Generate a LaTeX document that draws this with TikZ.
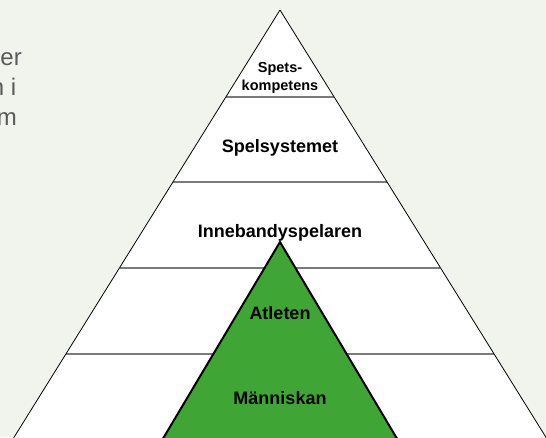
\documentclass[tikz,border=0pt]{standalone}
\usepackage{fontspec}
\setmainfont{Liberation Sans}
\definecolor{bgpaper}{HTML}{F0F4EC}
\definecolor{athletegreen}{HTML}{3FA535}
\definecolor{layerline}{HTML}{7A7A7A}
\definecolor{bodytext}{HTML}{5A5A5A}
\tikzset{
  levellabel/.style={font=\bfseries\fontsize{18}{20}\selectfont, anchor=base, inner sep=0pt},
  toplabel/.style={font=\bfseries\fontsize{14.5}{16}\selectfont, anchor=base, inner sep=0pt},
  margintext/.style={font=\fontsize{24}{30}\selectfont, text=bodytext, anchor=base east, inner sep=0pt}
}
\begin{document}
\begin{tikzpicture}[x=1pt,y=-1pt]
        \useasboundingbox[fill=bgpaper] (0,0) rectangle (546,437);
        % text cut off at the left margin
        \node[margintext] (txtA) at (22,65) {er};
        \node[margintext] (txtB) at (16.5,95) {n i};
        \node[margintext] (txtC) at (17,125) {m};
        % the big pyramid
        \coordinate (apex) at (280,10);
        \coordinate (baseL) at (8,447);
        \coordinate (baseR) at (552,447);
        \fill[white] (apex) -- (baseL) -- (baseR) -- cycle;
        \foreach \y in {97,182,268,354}
            \draw[layerline, line width=1.5pt] ({280-0.622*(\y-10)},\y) -- ({280+0.622*(\y-10)},\y);
        \draw[line width=0.8pt] (apex) -- (baseL) (apex) -- (baseR);
        % the green inner pyramid
        \coordinate (gapex) at (280,242);
        \coordinate (gbaseL) at (158,447);
        \coordinate (gbaseR) at (402,447);
        \filldraw[fill=athletegreen, draw=black, line width=2pt] (gapex) -- (gbaseL) -- (gbaseR) -- cycle;
        % level names
        \node[toplabel] (spets) at (280,72) {Spets-};
        \node[toplabel] (komp) at (280,90) {kompetens};
        \node[levellabel] (system) at (280,152) {Spelsystemet};
        \node[levellabel] (player) at (280,237) {Innebandyspelaren};
        \node[levellabel] (athlete) at (280,319) {Atleten};
        \node[levellabel] (human) at (280,404) {Människan};
    \end{tikzpicture}
\end{document}
